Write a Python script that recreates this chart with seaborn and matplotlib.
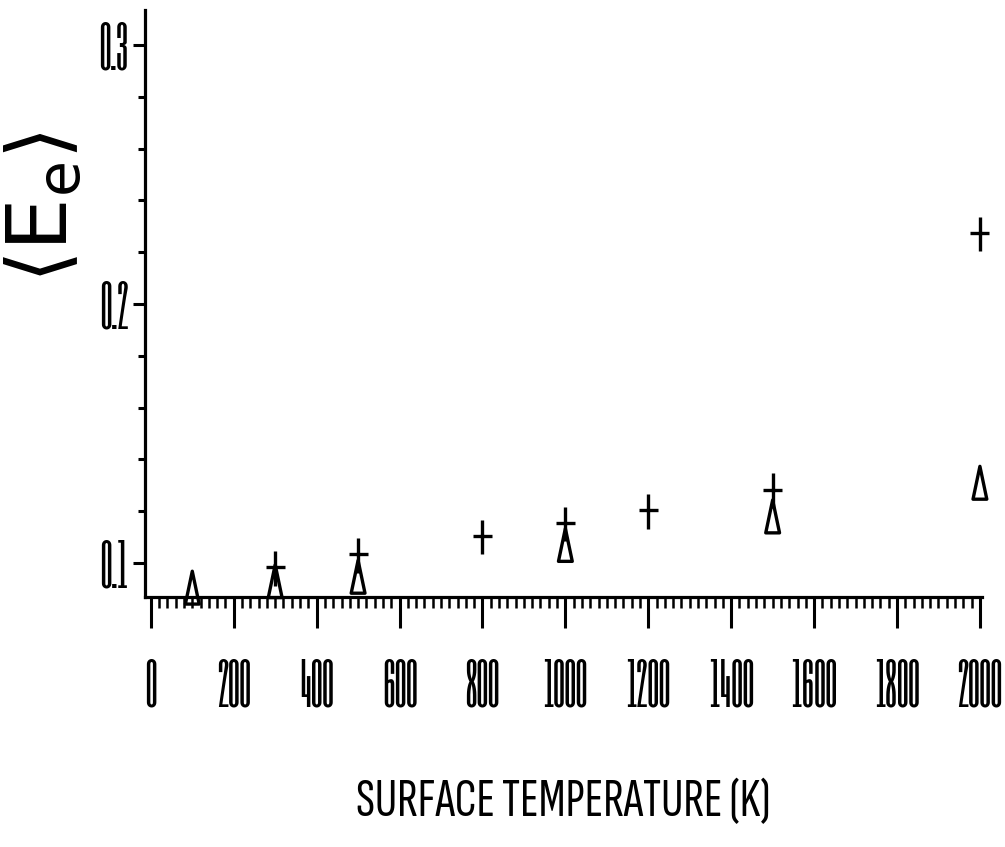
import numpy as np
import pandas as pd
import matplotlib
matplotlib.use("Agg")
import matplotlib.pyplot as plt
from matplotlib.path import Path
from matplotlib.ticker import MultipleLocator, FixedLocator
import seaborn as sns

# ----------------------------
# data
# ----------------------------
plus_temp = [300, 500, 800, 1000, 1200, 1500, 2000]
plus_energy = [0.098, 0.103, 0.110, 0.115, 0.120, 0.128, 0.227]

tri_temp = [100, 300, 500, 1000, 1500, 2000]
tri_energy = [0.0905, 0.093, 0.0947, 0.107, 0.118, 0.131]

x_ticks = list(range(0, 2001, 200))
y_ticks = [0.1, 0.2, 0.3]
y_minor = [0.12, 0.14, 0.16, 0.18, 0.22, 0.24, 0.26, 0.28]

df_plus = pd.DataFrame({"T": plus_temp, "E": plus_energy})
df_tri = pd.DataFrame({"T": tri_temp, "E": tri_energy})

sns.set_theme(style="ticks")
plt.rcParams["font.family"] = ["Six Caps", "Sofia Sans Extra Condensed", "DejaVu Sans"]
plt.rcParams["mathtext.fontset"] = "dejavusans"

# tall plus and tall open triangle, like the plotter symbols
plus_marker = Path([(0, -1), (0, 1), (-0.55, 0.05), (0.55, 0.05)],
                   [Path.MOVETO, Path.LINETO, Path.MOVETO, Path.LINETO])
tri_marker = Path([(-0.42, -1), (0.42, -1), (0, 1), (-0.42, -1)],
                  [Path.MOVETO, Path.LINETO, Path.LINETO, Path.CLOSEPOLY])

fig = plt.figure(figsize=(10.05, 8.47), dpi=100)
ax = fig.add_axes([0.1443, 0.2952, 0.8328, 0.6928])

sns.scatterplot(data=df_plus, x="T", y="E", marker=plus_marker, s=620,
                facecolor="none", edgecolor="black", linewidth=2.4,
                ax=ax, clip_on=False, zorder=3)
sns.scatterplot(data=df_tri, x="T", y="E", marker=tri_marker, s=560,
                facecolor="none", edgecolor="black", linewidth=2.4,
                ax=ax, clip_on=False, zorder=3)

ax.set_xlim(-14, 2005)
ax.set_ylim(0.0869, 0.3135)

sns.despine(ax=ax)
for side in ["left", "bottom"]:
    ax.spines[side].set_linewidth(2.3)
    ax.spines[side].set_color("black")

ax.xaxis.set_major_locator(FixedLocator(x_ticks))
ax.xaxis.set_minor_locator(MultipleLocator(20))
ax.yaxis.set_major_locator(FixedLocator(y_ticks))
ax.yaxis.set_minor_locator(FixedLocator(y_minor))
ax.set_xticklabels([str(t) for t in x_ticks])
ax.set_yticklabels(["0.1", "0.2", "0.3"])

ax.tick_params(axis="x", which="major", direction="out", length=22, width=2.2,
               color="black", labelsize=40, pad=22, labelcolor="black")
ax.tick_params(axis="x", which="minor", direction="out", length=8, width=1.8,
               color="black")
ax.tick_params(axis="y", which="major", direction="out", length=9, width=2.2,
               color="black", labelsize=40, pad=3, labelcolor="black")
ax.tick_params(axis="y", which="minor", direction="out", length=5, width=2.2,
               color="black")

ax.set_xlabel("SURFACE TEMPERATURE (K)", fontsize=40, color="black",
              family=["Sofia Sans Extra Condensed", "DejaVu Sans"])
ax.xaxis.set_label_coords(0.5, -0.31)
ax.set_ylabel(r"$\left\langle \mathrm{E}_\mathrm{e} \right\rangle$",
              fontsize=60, color="black", rotation=90)
ax.yaxis.set_label_coords(-0.072, 0.664)

fig.savefig("out.png", dpi=100, facecolor="white")
